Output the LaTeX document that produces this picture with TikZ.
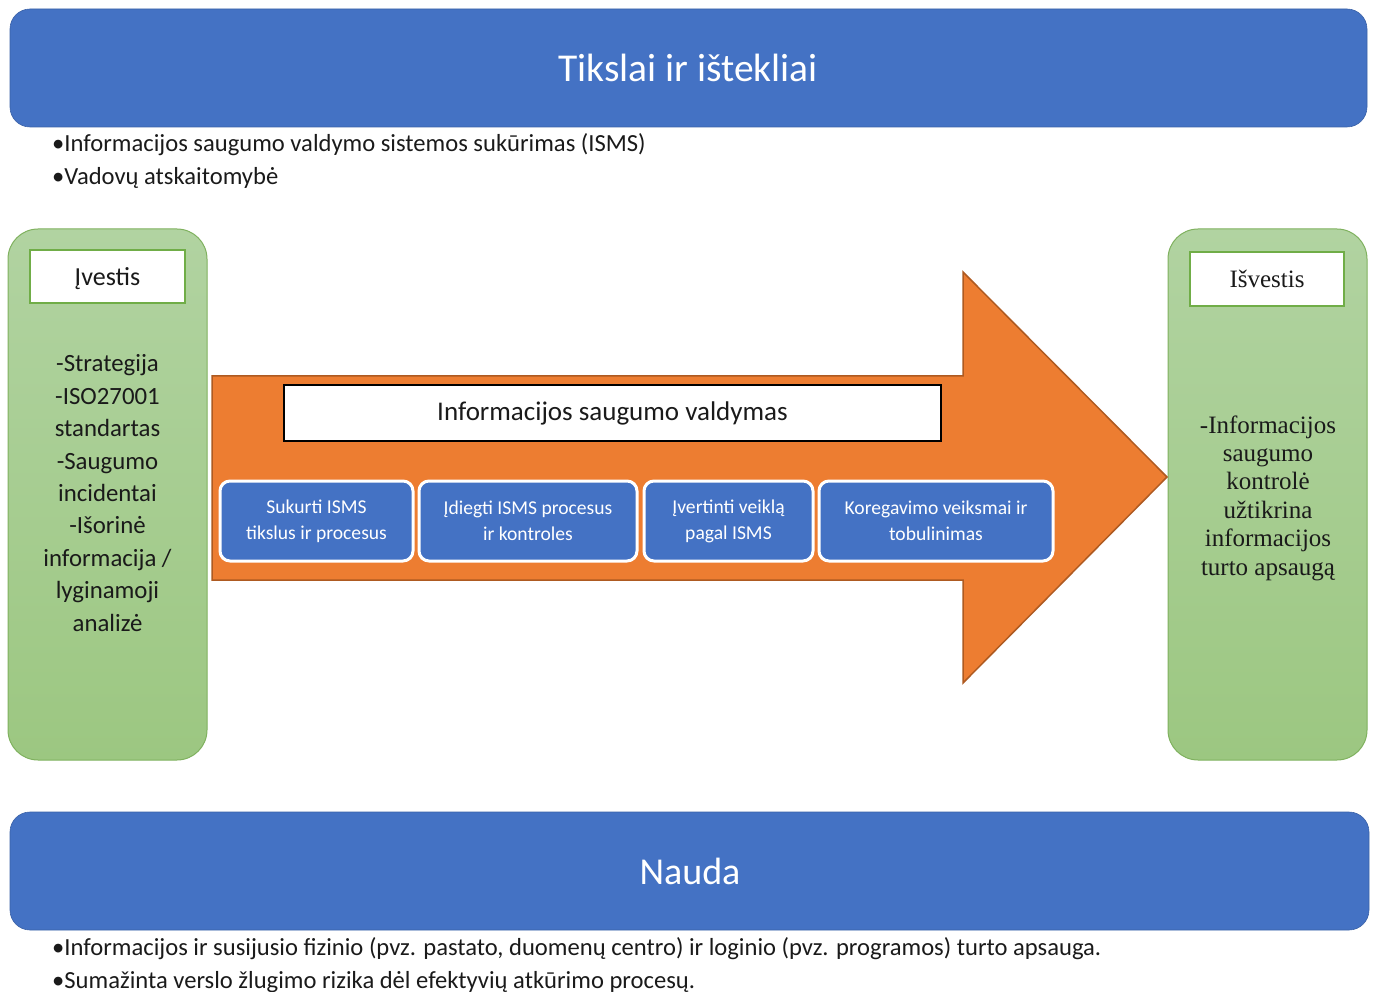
\documentclass[tikz,border=0pt]{standalone}
\usepackage{fontspec}
\setmainfont{Carlito}
\newfontfamily\timesf{Liberation Serif}
\definecolor{barblue}{HTML}{4472C4}
\definecolor{orng}{HTML}{ED7D31}
\definecolor{orngdark}{HTML}{AE5A21}
\definecolor{greentop}{HTML}{B1D3A1}
\definecolor{greenbot}{HTML}{9CC781}
\definecolor{greenedge}{HTML}{7FB15E}
\definecolor{greenbox}{HTML}{70AD47}
\definecolor{txt}{HTML}{1A1A1A}
\begin{document}
\begin{tikzpicture}[x=1pt,y=-1pt,
  bar/.style={fill=barblue, draw=barblue!85!black, line width=0.6pt, rounded corners=20pt},
  bartitle/.style={text=white, inner sep=0pt},
  bullet/.style={anchor=base west, text=txt, font=\fontsize{24.6}{28}\selectfont, inner sep=0pt},
  side/.style={top color=greentop, bottom color=greenbot, draw=greenedge, line width=1pt, rounded corners=30pt},
  label/.style={fill=white, draw=greenbox, line width=2pt, text=txt, inner sep=0pt},
  steps/.style={fill=barblue, draw=white, line width=3pt, rounded corners=10pt, text=white, align=center, font=\fontsize{19.6}{26}\selectfont, inner sep=0pt},
]
\useasboundingbox (0,0) rectangle (1374,992);

% top bar
\draw[bar] (10,9) rectangle (1367,127);
\node[bartitle, font=\fontsize{39.5}{44}\selectfont] (top) at (688,68) {Tikslai ir ištekliai};
\node[bullet] (b1) at (52,152) {•Informacijos saugumo valdymo sistemos sukūrimas (ISMS)};
\node[bullet] (b2) at (52,185) {•Vadovų atskaitomybė};

% left side
\draw[side] (8,229) rectangle (207,760);
\draw[label] (30,250) rectangle (185,303);
\node[text=txt, font=\fontsize{26}{30}\selectfont, anchor=base] (in) at (107.5,286) {Įvestis};
\node[text=txt, align=center, font=\fontsize{24.8}{32.4}\selectfont, anchor=base, inner sep=0pt] (intext) at (107.5,631)
 {-Strategija\\-ISO27001\\standartas\\-Saugumo\\incidentai\\-Išorinė\\informacija /\\lyginamoji\\analizė};

% right side
\draw[side] (1168,229) rectangle (1367,760);
\draw[label] (1190,252) rectangle (1344,306);
\node[text=txt, font=\timesf\fontsize{25}{30}\selectfont, anchor=base] (out) at (1267,288) {Išvestis};
\node[text=txt, align=center, font=\timesf\fontsize{25}{28.4}\selectfont, anchor=base, inner sep=0pt] (outtext) at (1268,575)
 {-Informacijos\\saugumo\\kontrolė\\užtikrina\\informacijos\\turto apsaugą};

% arrow
\draw[fill=orng, draw=orngdark, line width=1.5pt, line join=miter]
  (212,376) -- (963,376) -- (963,272) -- (1167,477) -- (963,683) -- (963,580) -- (212,580) -- cycle;
\node[fill=white, draw=black, line width=2.5pt, minimum width=657pt, minimum height=56pt, inner sep=0pt, text=txt, font=\fontsize{27}{30}\selectfont] (mgmt) at (612.5,413) {Informacijos saugumo valdymas};

% steps
\node[steps, minimum width=193pt, minimum height=80pt] (s1) at (316.5,521) {Sukurti ISMS\\tikslus ir procesus};
\node[steps, minimum width=218pt, minimum height=80pt] (s2) at (528,521) {Įdiegti ISMS procesus\\ir kontroles};
\node[steps, minimum width=169pt, minimum height=80pt] (s3) at (728.5,521) {Įvertinti veiklą\\pagal ISMS};
\node[steps, minimum width=234pt, minimum height=80pt] (s4) at (936,521) {Koregavimo veiksmai ir\\tobulinimas};

% bottom bar
\draw[bar] (10,812) rectangle (1369,930);
\node[bartitle, font=\fontsize{38}{44}\selectfont] (bot) at (690,871) {Nauda};
\node[bullet] (b3) at (52,955) {•Informacijos ir susijusio fizinio (pvz. pastato, duomenų centro) ir loginio (pvz. programos) turto apsauga.};
\node[bullet] (b4) at (52,988) {•Sumažinta verslo žlugimo rizika dėl efektyvių atkūrimo procesų.};
\end{tikzpicture}
\end{document}
